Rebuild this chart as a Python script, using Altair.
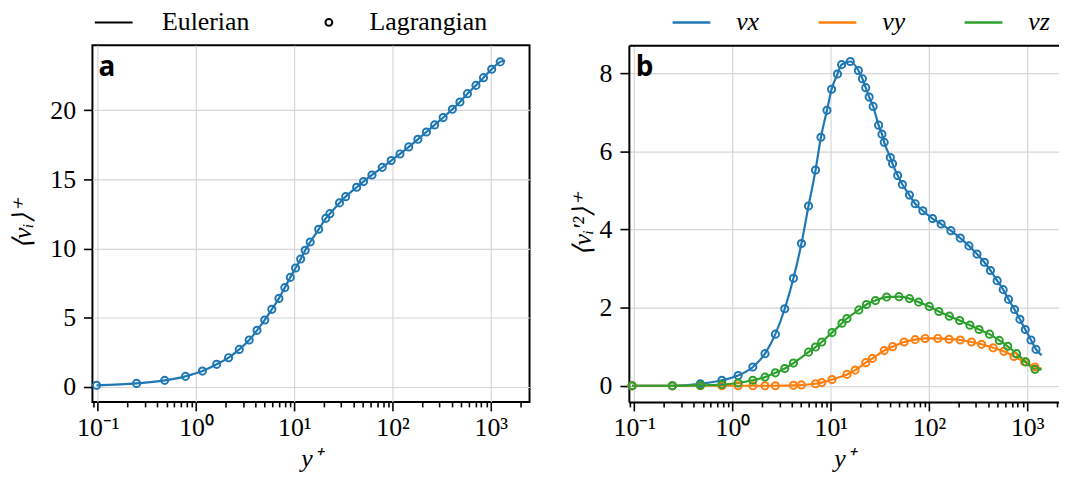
import altair as alt
import pandas as pd

# ---------------- data ----------------
# panel a : mean velocity <v_i>+ versus y+  (Lagrangian markers)
a_yplus = [0.097, 0.248, 0.479, 0.78, 1.16, 1.62, 2.14, 2.75, 3.47, 4.17, 5.0, 5.9,
           6.97, 8.0, 9.1, 10.3, 11.6, 12.9, 14.5, 17.7, 20.9, 23.0, 28.8, 33.3,
           43.1, 50.6, 61.7, 78.5, 96.8, 119, 146, 181, 221, 268, 327, 406, 485,
           578, 706, 842, 1021, 1247]
a_mean = [0.1, 0.24, 0.46, 0.75, 1.13, 1.62, 2.1, 2.7, 3.38, 4.08, 4.83, 5.6,
          6.39, 7.17, 7.91, 8.59, 9.24, 9.87, 10.47, 11.39, 12.18, 12.52, 13.3, 13.75,
          14.43, 14.84, 15.32, 15.87, 16.36, 16.84, 17.35, 17.9, 18.43, 18.94, 19.47,
          20.07, 20.6, 21.2, 21.8, 22.36, 22.97, 23.5]
# Eulerian line reaches a little further
a_end_yplus = 1400
a_end_mean = 23.6

# panel b : variances <v_i'^2>+ versus y+
vx_yplus = [0.095, 0.244, 0.471, 0.78, 1.14, 1.61, 2.14, 2.73, 3.4, 4.17, 5.03, 5.94,
            7.0, 7.94, 9.15, 10.2, 11.7, 12.9, 15.8, 19.1, 21.0, 22.7, 24.6, 27.0,
            30.7, 33.2, 35.0, 40.4, 42.6, 48, 53.6, 63.2, 72.3, 86.5, 108.6, 133, 167,
            208, 255, 308, 366, 422, 494, 569, 645, 743, 842, 955, 1091, 1228]
vx_var = [0, 0, 0.05, 0.14, 0.26, 0.48, 0.82, 1.32, 1.97, 2.75, 3.64, 4.6,
          5.52, 6.36, 7.05, 7.59, 7.98, 8.22, 8.3, 8.07, 7.86, 7.63, 7.39, 7.15,
          6.67, 6.44, 6.23, 5.84, 5.68, 5.38, 5.15, 4.88, 4.66, 4.48, 4.28, 4.14, 3.97,
          3.78, 3.58, 3.37, 3.16, 2.95, 2.69, 2.46, 2.21, 1.95, 1.7, 1.44, 1.17, 0.93]
vy_yplus = [0.095, 0.244, 0.471, 0.78, 1.14, 1.61, 2.14, 2.73, 4.17, 5.03, 7.0, 8.1,
            10.3, 14.6, 17.7, 22.7, 26.5, 35, 42.6, 55.8, 72.3, 91.4, 123, 160, 208,
            271, 343, 450, 578, 732, 940, 1196]
vy_var = [0, 0, 0, 0, 0, 0, 0, 0, 0.01, 0.02, 0.05, 0.08,
          0.16, 0.29, 0.4, 0.59, 0.7, 0.9, 1.0, 1.12, 1.18, 1.21, 1.21, 1.19, 1.17,
          1.12, 1.06, 0.97, 0.88, 0.75, 0.61, 0.48]
vz_yplus = [0.095, 0.244, 0.471, 0.78, 1.14, 1.61, 2.14, 2.73, 3.4, 4.17, 5.94, 7.0,
            8.1, 10.3, 13.0, 14.6, 19.3, 23.1, 28.5, 37, 49.5, 63.3, 78.4, 100.7, 126,
            161, 205, 261, 323, 413, 519, 633, 779, 965, 1198]
vz_var = [0, 0, 0.01, 0.03, 0.07, 0.14, 0.22, 0.33, 0.44, 0.58, 0.86, 0.99,
          1.12, 1.36, 1.6, 1.72, 1.94, 2.08, 2.18, 2.27, 2.28, 2.23, 2.14, 2.03, 1.9,
          1.78, 1.67, 1.55, 1.44, 1.32, 1.16, 1.01, 0.82, 0.61, 0.42]
b_end_yplus = 1400
b_end_var = {"vx": 0.78, "vy": 0.44, "vz": 0.42}

components = ["vx", "vy", "vz"]
comp_colors = ["#1f77b4", "#ff7f0e", "#2ca02c"]
methods = ["Eulerian", "Lagrangian"]
major_ticks = [0.1, 1, 10, 100, 1000]
minor_ticks = [0.09, 0.2, 0.3, 0.4, 0.5, 0.6, 0.7, 0.8, 0.9,
               2, 3, 4, 5, 6, 7, 8, 9, 20, 30, 40, 50, 60, 70, 80, 90,
               200, 300, 400, 500, 600, 700, 800, 900, 2000]
a_yticks = [0, 5, 10, 15, 20]
b_yticks = [0, 2, 4, 6, 8]

# ---------------- tables ----------------
a_lag = pd.DataFrame({"yplus": a_yplus, "val": a_mean, "method": "Lagrangian"})
a_eul = pd.DataFrame({"yplus": a_yplus + [a_end_yplus], "val": a_mean + [a_end_mean],
                      "method": "Eulerian"})

b_rows_lag, b_rows_eul = [], []
for comp, ys, vs in [("vx", vx_yplus, vx_var), ("vy", vy_yplus, vy_var), ("vz", vz_yplus, vz_var)]:
    for y, v in zip(ys, vs):
        b_rows_lag.append({"yplus": y, "val": v, "comp": comp})
        b_rows_eul.append({"yplus": y, "val": v, "comp": comp})
    b_rows_eul.append({"yplus": b_end_yplus, "val": b_end_var[comp], "comp": comp})
b_lag = pd.DataFrame(b_rows_lag)
b_eul = pd.DataFrame(b_rows_eul)

# ---------------- styling ----------------
SERIF = "Liberation Serif"
FS = 26
W_A, W_B, H = 440, 433, 359
GAP = 100
LOG_MIN = -1.055
PX_PER_DEC = 98.9
a_xdom = [10 ** LOG_MIN, 10 ** (LOG_MIN + W_A / PX_PER_DEC)]
b_xdom = [10 ** LOG_MIN, 10 ** (LOG_MIN + W_B / PX_PER_DEC)]

# legend / marker symbols (paths in Vega's [-1, 1] symbol space)
LINE_PATH = "M-2,0L2,0"
LINE_PATH_A = "M-2.8,0L1.2,0"
CIRCLE_PATH = "M0.36,0A0.36,0.36,0,1,1,-0.36,0A0.36,0.36,0,1,1,0.36,0Z"
LEG_SIZE = 361

major_test = "indexof([0.1, 1, 10, 100, 1000], datum.value) >= 0"
label_expr = ("datum.value == 0.1 ? '10⁻¹' : datum.value == 1 ? '10⁰' : "
              "datum.value == 10 ? '10¹' : datum.value == 100 ? '10²' : "
              "datum.value == 1000 ? '10³' : ''")


def x_axis(domain_line):
    return alt.Axis(values=major_ticks + minor_ticks, labelExpr=label_expr,
                    title="y⁺", titleFontStyle="italic", titlePadding=5,
                    tickSize={"condition": {"test": major_test, "value": 9}, "value": 5},
                    gridOpacity={"condition": {"test": major_test, "value": 1}, "value": 0},
                    labelPadding=4, labelFlush=False, labelOverlap=False,
                    domain=domain_line, domainColor="black", domainWidth=2)


def y_axis(values, title, domain_line, title_pad):
    return alt.Axis(values=values, title=title, titleFontStyle="italic",
                    titlePadding=title_pad, tickSize=9, labelPadding=8,
                    domain=domain_line, domainColor="black", domainWidth=2)


# ---------------- panel a ----------------
xa = alt.X("yplus:Q", scale=alt.Scale(type="log", domain=a_xdom, nice=False),
           axis=x_axis(False))
ya = alt.Y("val:Q", scale=alt.Scale(domain=[-1.1, 24.7], nice=False, zero=False),
           axis=y_axis(a_yticks, "⟨vᵢ⟩⁺", False, 14))

a_line = alt.Chart(a_eul).mark_line(color="#1f77b4", strokeWidth=2.2,
                                    interpolate="monotone").encode(x=xa, y=ya)
a_pts = alt.Chart(a_lag).mark_point(color="#1f77b4", filled=False, strokeWidth=2,
                                    size=400, opacity=1).encode(
    x=xa, y=ya,
    shape=alt.Shape("method:N",
                    scale=alt.Scale(domain=methods, range=[LINE_PATH_A, CIRCLE_PATH]),
                    legend=alt.Legend(title=None, orient="none", direction="horizontal",
                                      legendX=16, legendY=-36, symbolSize=LEG_SIZE,
                                      symbolStrokeColor="black", symbolStrokeWidth=2,
                                      symbolFillColor="transparent",
                                      labelFont=SERIF, labelFontSize=FS, labelOffset=28,
                                      columnPadding=66, padding=0)))
a_lab = alt.Chart(pd.DataFrame({"lab": ["a"]})).mark_text(
    font="Open Sans", fontWeight="bold", fontSize=28, align="left",
    baseline="alphabetic", color="black").encode(x=alt.value(6), y=alt.value(31), text="lab:N")

panel_a = alt.layer(a_line, a_pts, a_lab).properties(
    width=W_A, height=H,
    view=alt.ViewBackground(stroke="black", strokeWidth=2))

# ---------------- panel b ----------------
xb = alt.X("yplus:Q", scale=alt.Scale(type="log", domain=b_xdom, nice=False),
           axis=x_axis(True))
xb_none = alt.X("yplus:Q", scale=alt.Scale(type="log", domain=b_xdom, nice=False), axis=None)
xb_top = alt.X("yplus:Q", scale=alt.Scale(type="log", domain=b_xdom, nice=False),
               axis=alt.Axis(orient="top", labels=False, ticks=False, grid=False,
                             title=None, domain=True, domainColor="black", domainWidth=2))
yb = alt.Y("val:Q", scale=alt.Scale(domain=[-0.415, 8.715], nice=False, zero=False),
           axis=y_axis(b_yticks, "⟨vᵢ′²⟩⁺", True, 4))

b_line = alt.Chart(b_eul).mark_line(strokeWidth=2.2, interpolate="monotone").encode(
    x=xb, y=yb,
    color=alt.Color("comp:N", scale=alt.Scale(domain=components, range=comp_colors),
                    legend=alt.Legend(title=None, orient="none", direction="horizontal",
                                      legendX=W_A + GAP + 50, legendY=-36,
                                      symbolType=LINE_PATH, symbolSize=LEG_SIZE,
                                      symbolStrokeWidth=2.5, labelFont=SERIF,
                                      labelFontSize=FS, labelFontStyle="italic",
                                      labelOffset=32, columnPadding=54, padding=0)))
b_pts = alt.Chart(b_lag).mark_point(filled=False, strokeWidth=2, size=400,
                                    shape=CIRCLE_PATH, opacity=1).encode(
    x=xb_none, y=yb,
    color=alt.Color("comp:N", scale=alt.Scale(domain=components, range=comp_colors),
                    legend=None))
b_top = alt.Chart(b_lag).mark_point(opacity=0).encode(x=xb_top, y=yb)
b_lab = alt.Chart(pd.DataFrame({"lab": ["b"]})).mark_text(
    font="Open Sans", fontWeight="bold", fontSize=28, align="left",
    baseline="alphabetic", color="black").encode(x=alt.value(7), y=alt.value(31), text="lab:N")

panel_b = alt.layer(b_line, b_pts, b_top, b_lab).resolve_axis(x="independent").properties(
    width=W_B, height=H,
    view=alt.ViewBackground(stroke="transparent", strokeWidth=0))

chart = alt.hconcat(panel_a, panel_b, spacing=GAP, bounds="flush").properties(
    padding={"left": 1, "top": 0, "right": 0, "bottom": 0},
    background="white",
).configure_axis(
    labelFont=SERIF, labelFontSize=FS, labelColor="black",
    titleFont=SERIF, titleFontSize=FS, titleFontWeight="normal", titleColor="black",
    tickColor="black", tickWidth=1.6, gridColor="#d6d6d6", gridWidth=1.2,
).configure_view(strokeWidth=0)

chart.save("out.html", embed_options={"renderer": "svg", "actions": False})
